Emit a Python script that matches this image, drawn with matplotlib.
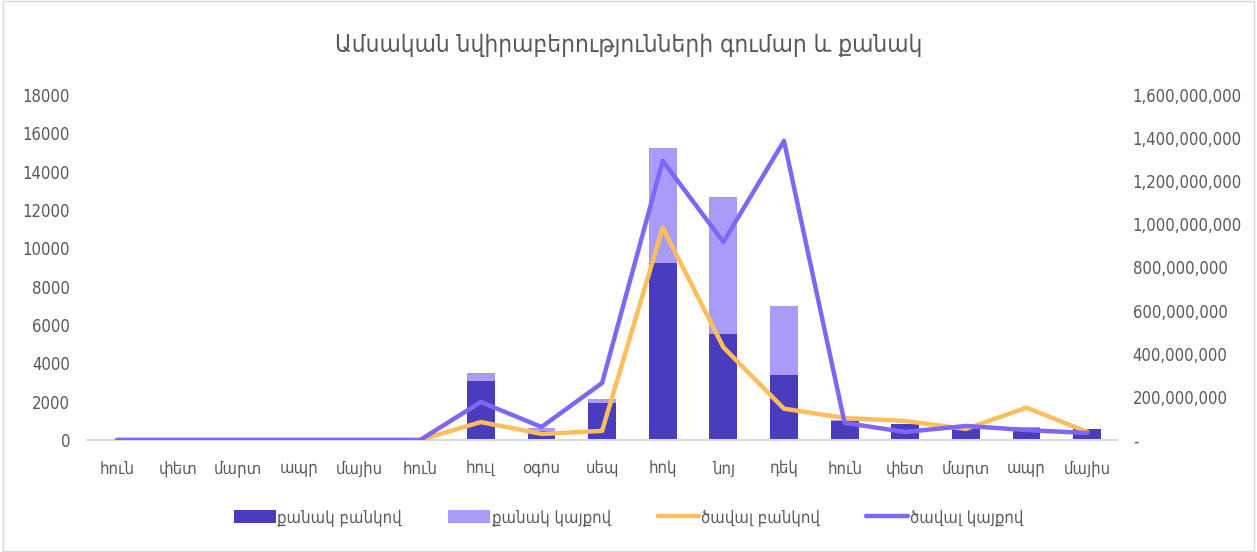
import matplotlib.pyplot as plt
import matplotlib.ticker as mticker
from matplotlib.patches import Rectangle

months = ['հուն', 'փետ', 'մարտ', 'ապր', 'մայիս', 'հուն', 'հուլ', 'օգոս', 'սեպ',
          'հոկ', 'նոյ', 'դեկ', 'հուն', 'փետ', 'մարտ', 'ապր', 'մայիս']
count_bank = [0, 0, 0, 0, 0, 0, 3100, 450, 1930, 9250, 5550, 3400, 1000, 830, 700, 630, 570]
count_site = [0, 0, 0, 0, 0, 0, 400, 170, 210, 6000, 7100, 3600, 50, 0, 0, 50, 0]
volume_bank = [0, 0, 0, 0, 0, 0, 83e6, 28e6, 42e6, 985e6, 430e6, 145e6,
               102e6, 88e6, 51e6, 150e6, 37e6]
volume_site = [0, 0, 0, 0, 0, 0, 176e6, 60e6, 264e6, 1294e6, 918e6, 1387e6,
               79e6, 37e6, 65e6, 46e6, 32e6]

plt.rcParams['font.family'] = ['DejaVu Sans']
plt.rcParams['font.stretch'] = 'condensed'
dark = '#4A3CBE'
light = '#A99CF8'
orange = '#FFBE5C'
purple = '#8066F6'
grey = '#595959'

fig = plt.figure(figsize=(12.57, 5.52), dpi=100)
ax = fig.add_axes([0.069, 0.203, 0.82, 0.625])
x = list(range(len(months)))
ax.bar(x, count_bank, width=0.46, color=dark, label='քանակ բանկով', zorder=2)
ax.bar(x, count_site, width=0.46, bottom=count_bank, color=light, label='քանակ կայքով', zorder=2)
ax.set_xlim(-0.5, len(months) - 0.5)
ax.set_ylim(0, 18000)
ax.set_yticks(range(0, 18001, 2000))
ax.set_xticks(x)
ax.set_xticklabels(months)
for s in ['top', 'right', 'left']:
    ax.spines[s].set_visible(False)
ax.spines['bottom'].set_color('#d9d9d9')
ax.spines['bottom'].set_linewidth(1.5)
ax.tick_params(length=0, labelsize=12, colors=grey, pad=14)
ax.tick_params(axis='y', pad=12)

ax2 = ax.twinx()
ax2.plot(x, volume_bank, color=orange, lw=3.2, label='ծավալ բանկով', solid_capstyle='round')
ax2.plot(x, volume_site, color=purple, lw=3.2, label='ծավալ կայքով', solid_capstyle='round')
ax2.set_ylim(0, 1.6e9)
ax2.set_yticks([i * 2e8 for i in range(9)])
ax2.yaxis.set_major_formatter(mticker.FuncFormatter(lambda v, p: '-' if v == 0 else f'{v:,.0f}'))
for s in ['top', 'right', 'left', 'bottom']:
    ax2.spines[s].set_visible(False)
ax2.tick_params(length=0, labelsize=12, colors=grey, pad=11)

fig.suptitle('Ամսական նվիրաբերությունների գումար և քանակ', y=0.94, fontsize=17.5, color=grey)
h1, l1 = ax.get_legend_handles_labels()
h2, l2 = ax2.get_legend_handles_labels()
fig.legend(h1 + h2, l1 + l2, loc='center', bbox_to_anchor=(0.5, 0.063), ncol=4, frameon=False,
           fontsize=12, labelcolor=grey, handlelength=2.5, handleheight=0.85,
           columnspacing=2.8, handletextpad=0.1)
fig.patches.append(Rectangle((0.002, 0.002), 0.996, 0.996, transform=fig.transFigure,
                             fill=False, edgecolor='#d9d9d9', lw=1))
fig.savefig('out.png', dpi=100)
